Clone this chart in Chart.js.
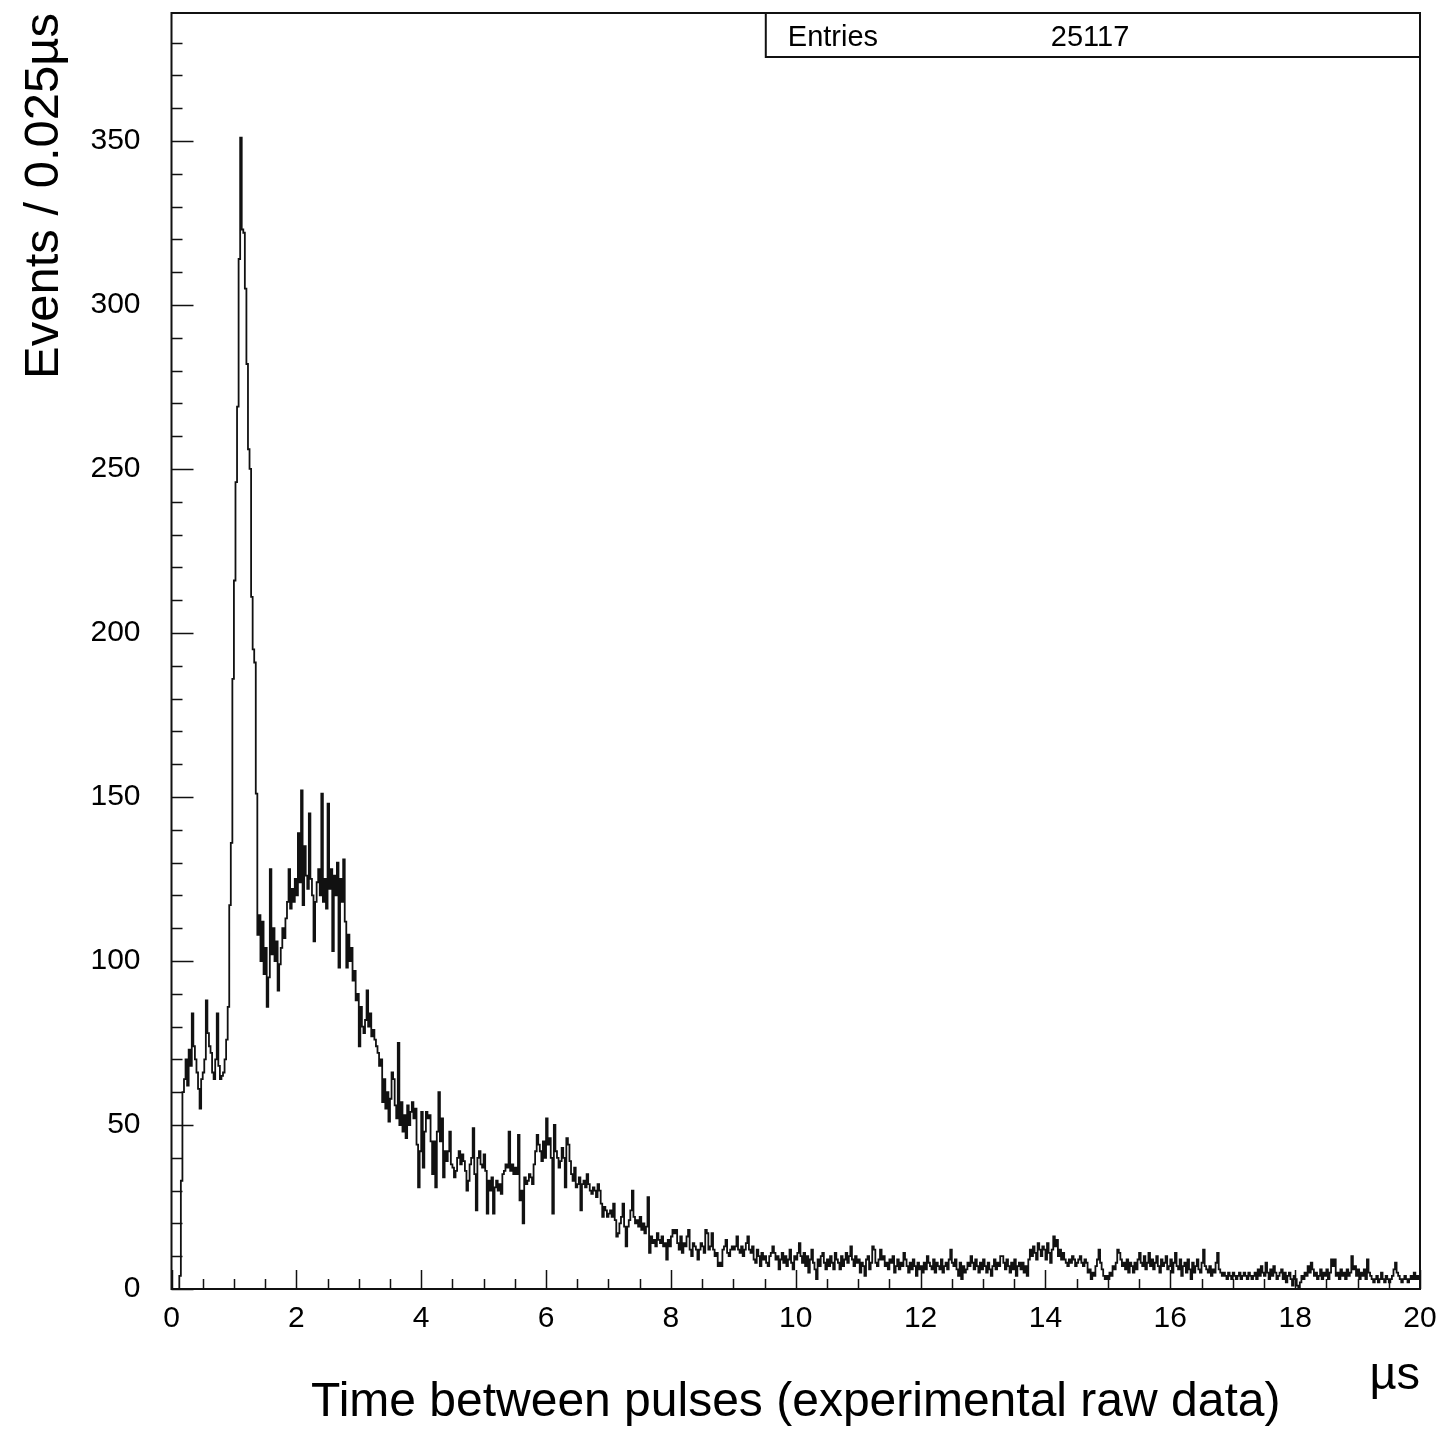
<!DOCTYPE html>
<html>
<head>
<meta charset="utf-8">
<title>Time between pulses</title>
<script src="https://cdn.jsdelivr.net/npm/chart.js@4.4.1/dist/chart.umd.min.js"></script>
<style>
    html, body { margin: 0; padding: 0; background: #fff; }
    #wrap { width: 1441px; height: 1429px; }
</style>
</head>
<body>
<div id="wrap"><canvas id="chart" width="1441" height="1429"></canvas></div>
<script>
// Histogram settings
const binWidth = 0.025;   // µs per bin
const xMin = 0;
const xMax = 20;
const yMax = 389;
const entries = 25117;

// Events per 0.025 µs bin, one row per µs (40 bins)
const counts = [
    0,0,0,0,0,4,33,60,64,70,62,73,68,84,74,70,66,61,55,64,66,70,88,78,74,72,66,64,70,84,68,64,65,66,70,76,86,117,136,186,
    216,246,269,314,351,323,322,305,282,256,250,211,195,191,151,108,114,100,112,96,104,86,95,128,102,110,100,106,91,99,104,110,107,113,118,128,116,122,118,125,
    120,139,124,152,117,135,126,122,145,125,120,106,118,124,128,120,151,118,125,116,148,122,128,103,126,120,130,98,125,118,131,112,98,108,100,104,94,97,88,90,
    74,86,80,78,82,91,80,84,77,79,76,74,72,68,70,57,64,55,60,51,58,66,64,56,52,75,50,57,48,53,46,56,50,54,57,52,55,44,31,42,
    54,37,48,54,52,53,45,35,45,31,48,60,45,52,34,42,39,42,48,38,37,34,36,40,42,38,41,39,36,30,33,38,40,49,35,24,40,42,38,37,
    41,36,23,33,30,34,23,31,33,30,32,29,35,36,38,37,48,36,38,35,37,35,47,27,30,20,34,32,33,35,34,32,38,42,47,44,42,39,45,40,
    52,44,46,40,23,50,42,40,37,39,43,40,31,46,44,39,35,33,37,31,32,34,24,32,33,31,35,32,30,29,31,30,28,32,30,26,22,25,24,22,
    23,24,22,26,21,16,17,20,22,26,19,13,19,21,24,30,22,20,21,19,22,18,20,17,19,28,11,16,14,15,13,17,15,14,16,13,14,9,15,13,
    16,18,17,18,14,12,16,11,14,13,16,18,12,10,14,13,12,9,12,14,13,11,18,17,12,13,17,12,10,11,7,8,7,12,13,15,11,10,12,13,
    12,13,16,12,11,13,10,12,14,16,12,11,13,9,8,12,10,7,11,9,10,8,7,10,11,13,11,9,10,6,9,11,8,10,7,9,12,8,6,10,
    9,11,14,10,8,11,7,10,5,9,12,8,6,3,9,7,10,11,8,6,9,7,10,8,6,11,9,8,6,10,7,9,11,8,10,13,9,7,10,8,
    9,5,8,7,4,9,10,6,8,13,12,8,7,9,12,9,10,7,8,6,9,8,10,5,7,9,6,8,7,11,9,7,5,8,6,9,7,4,8,6,
    7,5,8,6,10,8,7,6,9,5,8,7,6,9,5,7,8,6,9,12,8,7,9,6,4,8,3,7,5,6,8,7,10,8,6,9,7,5,8,6,
    9,7,5,8,6,4,7,9,6,8,7,10,10,8,6,9,7,5,8,6,9,4,7,8,6,8,5,7,4,9,12,10,13,11,9,14,12,10,13,12,
    9,14,11,8,12,16,13,15,10,12,9,11,9,8,7,9,8,10,9,7,8,9,10,8,7,9,8,5,6,3,5,4,7,9,12,8,6,4,3,4,
    3,5,4,7,6,8,12,11,9,7,8,6,9,5,8,7,5,8,6,9,11,8,7,10,6,8,11,7,9,6,8,10,7,5,9,7,8,10,6,7,
    9,5,8,11,7,6,9,4,7,8,5,9,6,3,8,5,7,9,6,5,8,12,7,6,5,7,4,6,5,8,11,6,5,4,5,4,3,5,4,3,
    5,4,3,4,5,3,4,5,4,3,5,4,3,4,5,3,6,4,7,5,4,8,5,3,6,4,7,5,3,4,5,6,3,5,2,4,5,3,1,4,
    3,1,0,2,4,3,5,4,7,5,8,6,4,5,3,4,6,3,5,4,6,3,5,9,7,9,4,5,3,6,4,5,3,6,4,5,10,6,7,4,
    6,3,5,4,6,3,9,5,4,3,2,3,4,2,3,5,3,2,4,3,2,3,4,6,8,5,4,3,2,3,4,3,2,3,4,3,5,3,4,3
];

// Axis ticks
const xTickLabels = [0, 2, 4, 6, 8, 10, 12, 14, 16, 18, 20];
const yTickLabels = [0, 50, 100, 150, 200, 250, 300, 350];
const xMinorStep = 0.5;
const yMinorStep = 10;

const fontFamily = '"Liberation Sans", Arial, Helvetica, sans-serif';

// Bin left edges with a closing point at the right edge
const points = counts.map((v, i) => ({ x: xMin + i * binWidth, y: v }));
points.push({ x: xMax, y: counts[counts.length - 1] });

// Frame, inward ticks, stats box and unit label
const rootStyle = {
    id: 'rootStyle',
    afterDatasetsDraw(chart) {
        const { ctx, chartArea: a, scales: { x, y } } = chart;
        ctx.save();
        ctx.strokeStyle = '#111';
        ctx.lineWidth = 1.5;
        ctx.beginPath();
        const nx = Math.round((xMax - xMin) / xMinorStep);
        for (let k = 0; k <= nx; k++) {
            const v = xMin + k * xMinorStep;
            const px = Math.round(x.getPixelForValue(v)) + 0.5;
            const len = (v % 2 === 0) ? 19 : 10;
            ctx.moveTo(px, a.bottom);
            ctx.lineTo(px, a.bottom - len);
        }
        for (let v = 0; v <= yMax; v += yMinorStep) {
            const py = Math.round(y.getPixelForValue(v)) + 0.5;
            const len = (v % 50 === 0) ? 22 : 11;
            ctx.moveTo(a.left, py);
            ctx.lineTo(a.left + len, py);
        }
        ctx.stroke();

        // frame
        ctx.lineWidth = 2;
        ctx.strokeRect(a.left, a.top, a.right - a.left, a.bottom - a.top);

        // stats box
        const boxLeft = a.right - 0.524 * (a.right - a.left);
        const boxH = 44;
        ctx.fillStyle = '#fff';
        ctx.fillRect(boxLeft, a.top, a.right - boxLeft, boxH);
        ctx.strokeRect(boxLeft, a.top, a.right - boxLeft, boxH);
        ctx.fillStyle = '#000';
        ctx.font = '29px ' + fontFamily;
        ctx.textBaseline = 'alphabetic';
        ctx.textAlign = 'left';
        ctx.fillText('Entries', boxLeft + 22, a.top + 33);
        ctx.fillText(String(entries), boxLeft + 285, a.top + 33);

        // unit
        ctx.font = '47px ' + fontFamily;
        ctx.textAlign = 'right';
        ctx.fillText('µs', a.right, 1389);
        ctx.restore();
    }
};

const ctx = document.getElementById('chart').getContext('2d');
const chart = new Chart(ctx, {
    type: 'line',
    data: {
        datasets: [{
            data: points,
            stepped: true,
            borderColor: '#111',
            borderWidth: 1.8,
            pointRadius: 0,
            fill: false
        }]
    },
    options: {
        responsive: false,
        animation: false,
        parsing: false,
        layout: { autoPadding: false, padding: { top: 13, right: 21, bottom: 0, left: 0 } },
        plugins: {
            legend: { display: false },
            tooltip: { enabled: false }
        },
        scales: {
            x: {
                type: 'linear',
                min: xMin,
                max: xMax,
                afterBuildTicks: scale => { scale.ticks = xTickLabels.map(v => ({ value: v })); },
                afterFit: scale => {
                    scale.height = 140;
                    scale.paddingLeft = 0;
                    scale.paddingRight = 0;
                },
                grid: { display: false, drawTicks: false },
                border: { display: false },
                ticks: {
                    padding: 12,
                    maxRotation: 0,
                    color: '#000',
                    font: { family: fontFamily, size: 30 }
                },
                title: {
                    display: true,
                    text: 'Time between pulses (experimental raw data)',
                    color: '#000',
                    font: { family: fontFamily, size: 48, lineHeight: 1.1 },
                    padding: { top: 0, bottom: 0 }
                }
            },
            y: {
                type: 'linear',
                min: 0,
                max: yMax,
                afterBuildTicks: scale => { scale.ticks = yTickLabels.map(v => ({ value: v })); },
                afterFit: scale => {
                    scale.width = 171.5;
                    scale.paddingTop = 0;
                    scale.paddingBottom = 0;
                },
                grid: { display: false, drawTicks: false },
                border: { display: false },
                ticks: {
                    padding: 31,
                    color: '#000',
                    font: { family: fontFamily, size: 30 }
                },
                title: {
                    display: true,
                    text: 'Events / 0.025µs',
                    align: 'end',
                    color: '#000',
                    font: { family: fontFamily, size: 49, lineHeight: 1.1 },
                    padding: { top: 18, bottom: 0 }
                }
            }
        }
    },
    plugins: [rootStyle]
});
</script>
</body>
</html>
